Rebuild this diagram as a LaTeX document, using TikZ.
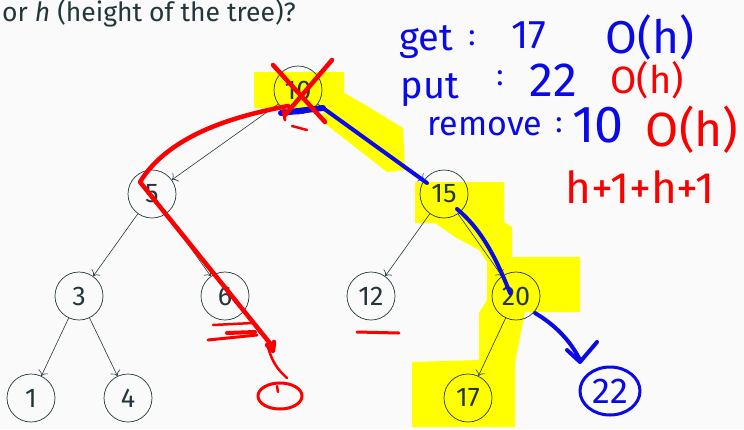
\documentclass[tikz,border=0pt]{standalone}
\usepackage{fontspec}
\setmainfont{Fira Sans}
\usetikzlibrary{arrows.meta}
\definecolor{bstteal}{RGB}{35,55,59}
\definecolor{bstpaper}{RGB}{250,250,250}
\definecolor{bstmark}{RGB}{255,255,0}
\definecolor{inkred}{RGB}{250,0,0}
\definecolor{inkblue}{RGB}{10,10,230}

\begin{document}
\begin{tikzpicture}[x=1pt, y=-1pt,
    key/.style={circle, draw=bstteal, line width=0.7pt, minimum size=48pt, inner sep=0pt, text=bstteal, font=\fontsize{27}{30}\selectfont},
    link/.style={draw=bstteal, line width=0.6pt, -{To[length=5pt]}},
    redink/.style={draw=inkred, line width=4.5pt, line cap=round, line join=round},
    blueink/.style={draw=inkblue, line width=4pt, line cap=round, line join=round},
    scrawl/.style={inner sep=0pt, font=\fontsize{#1}{#1}\selectfont}
  ]
  \useasboundingbox[fill=bstpaper] (0,0) rectangle (744,429);

  % highlighter
  \fill[bstmark] (254,72) -- (344,72) -- (344,93) -- (362,103) -- (403,128) -- (405,170)
    -- (387,172) -- (323,122) -- (323,108) -- (254,108) -- cycle;
  \fill[bstmark] (415,182) -- (504,182) -- (504,222) -- (512,227) -- (512,257) -- (580,257)
    -- (580,312) -- (525,312) -- (515,362) -- (515,427) -- (412,427) -- (412,362) -- (479,360)
    -- (479,313) -- (487,300) -- (487,262) -- (479,250) -- (455,237) -- (435,223) -- (415,223) -- cycle;

  % slide text
  \node[anchor=base east, text=bstteal, inner sep=0pt, font=\fontsize{26.5}{30}\selectfont] (prompt) at (296,21.5)
    {or \textit{h} (height of the tree)?};

  % tree
  \node[key] (n10) at (298,90) {10};
  \node[key] (n5) at (152,194) {5};
  \node[key] (n15) at (444,194) {15};
  \node[key] (n3) at (79,296) {3};
  \node[key] (n6) at (225,296) {6};
  \node[key] (n12) at (371,296) {12};
  \node[key] (n20) at (516,296) {20};
  \node[key] (n1) at (31,398) {1};
  \node[key] (n4) at (128,398) {4};
  \node[key] (n17) at (468,398) {17};
  \draw[link] (n10) -- (n5);
  \draw[link] (n10) -- (n15);
  \draw[link] (n5) -- (n3);
  \draw[link] (n5) -- (n6);
  \draw[link] (n15) -- (n12);
  \draw[link] (n15) -- (n20);
  \draw[link] (n3) -- (n1);
  \draw[link] (n3) -- (n4);
  \draw[link] (n20) -- (n17);

  % blue pen: get and put
  \draw[blueink, line width=6pt] (281,113) -- (323,108);
  \draw[blueink] (323,108) -- (427,183);
  \draw[blueink] (457,209) .. controls (480,228) and (495,255) .. (510,293);
  \draw[blueink] (535,313) .. controls (555,325) and (570,340) .. (580,360);
  \draw[blueink] (567,350) -- (580,362) -- (597,342);
  \draw[blueink, line width=3pt] (610,391) ellipse [x radius=30pt, y radius=24pt];
  \node[scrawl=36, text=inkblue] (new22) at (610,391) {22};

  % red pen: remove
  \draw[redink] (273,65) -- (325,122);
  \draw[redink] (332,60) -- (285,115);
  \draw[redink, line width=2.5pt] (292,126) -- (307,130);
  \draw[redink] (288,106) .. controls (240,115) and (170,133) .. (140,182) -- (273,347);
  \draw[redink, line width=3pt] (283,110) -- (285,120);
  \draw[redink] (267,345) -- (273,351) -- (274,342);
  \draw[redink, line width=2.5pt] (268,347) .. controls (272,362) and (278,370) .. (287,378);
  \draw[redink, line width=3pt] (280,396) ellipse [x radius=22pt, y radius=13pt];
  \draw[redink, line width=2.5pt] (277,386) -- (278,392);
  \draw[redink, line width=2.5pt] (213,325) -- (253,323);
  \draw[redink, line width=3pt] (208,340) -- (257,335);
  \draw[redink, line width=4pt] (227,333) -- (255,332);
  \draw[redink, line width=3pt] (357,332) -- (399,333);

  % notes
  \node[scrawl=38, text=inkblue] (get) at (426,42) {get};
  \node[scrawl=30, text=inkblue] (getc) at (472,38) {:};
  \node[scrawl=40, text=inkblue] (getk) at (529,35) {17};
  \node[scrawl=46, text=inkblue] (geto) at (650,37) {O(h)};
  \node[scrawl=38, text=inkblue] (put) at (430,90) {put};
  \node[scrawl=30, text=inkblue] (putc) at (500,78) {:};
  \node[scrawl=48, text=inkblue] (putk) at (553,80) {22};
  \node[scrawl=38, text=inkred] (puto) at (647,80) {O(h)};
  \node[scrawl=34, text=inkblue] (rem) at (485,127) {remove};
  \node[scrawl=30, text=inkblue] (remc) at (559,125) {:};
  \node[scrawl=52, text=inkblue] (remk) at (598,125) {10};
  \node[scrawl=48, text=inkred] (remo) at (692,130) {O(h)};
  \node[scrawl=44, text=inkred] (cost) at (640,187) {h+1+h+1};
\end{tikzpicture}
\end{document}
